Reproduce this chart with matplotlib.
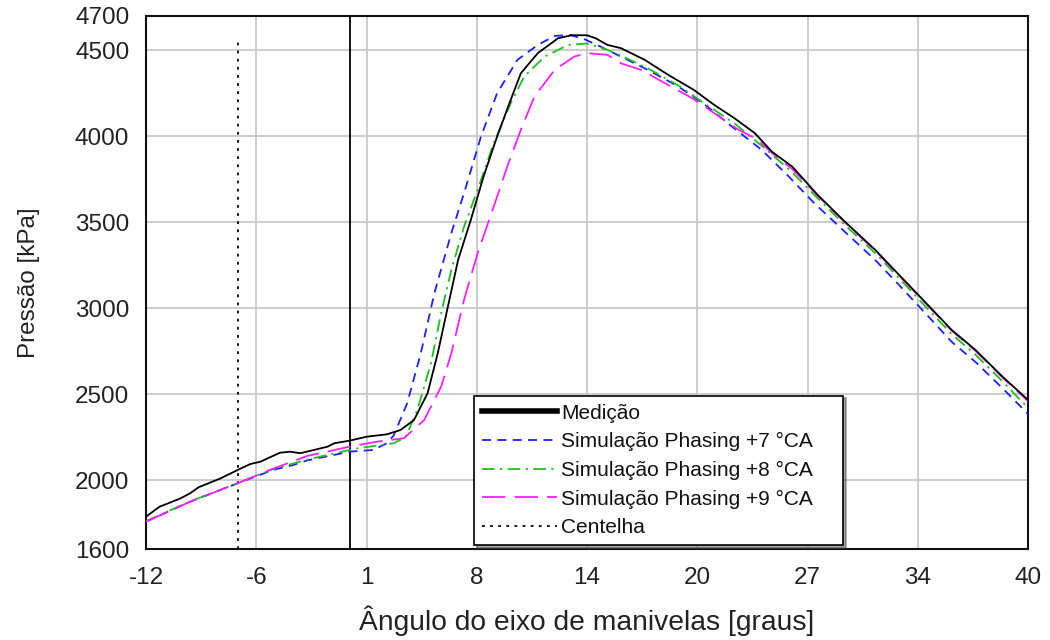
import numpy as np
import matplotlib
matplotlib.use("Agg")
import matplotlib.pyplot as plt
from matplotlib.lines import Line2D

plt.rcParams['font.family'] = ['Liberation Sans', 'DejaVu Sans']

# ---------------- data ----------------
med_x = [-12, -11.2, -10, -9.4, -8.9, -7.6, -6.4, -5.85, -5.25, -4.1, -3.5, -2.9, -2.1, -1.3, -0.9, 0,
         1.0, 2.2, 3.0, 3.8, 4.6, 5.2, 5.8, 6.4, 7.15, 7.9, 8.7, 9.5, 10.1, 11.1, 12.3, 13.1, 14.0,
         14.5, 15.2, 16.0, 17.4, 18.8, 20.3, 21.5, 22.7, 23.9, 24.9, 26.1, 27.6, 29.2, 31.0, 32.4,
         34.1, 35.5, 36.9, 38.5, 40.0]
med_y = [1788, 1846, 1893, 1924, 1959, 2011, 2069, 2094, 2108, 2160, 2166, 2157, 2176, 2195, 2215, 2230,
         2253, 2267, 2292, 2350, 2506, 2738, 3010, 3281, 3514, 3766, 3999, 4212, 4367, 4484, 4571, 4588, 4588,
         4571, 4532, 4513, 4445, 4357, 4270, 4183, 4105, 4018, 3911, 3824, 3659, 3504, 3339, 3194,
         3019, 2874, 2758, 2602, 2467]

s7_x = [-12, -9.4, -6.6, -4.5, -3.3, -2.5, 0, 1.4, 2.2, 2.6, 3.4, 4.2, 5.0, 6.0, 6.75, 7.75, 8.7, 9.9,
        11.1, 12.1, 13.0, 13.85, 14.8, 16.0, 17.6, 19.4, 21.1, 22.3, 24.3, 25.9, 27.4, 29.2, 31.0,
        32.4, 34.1, 35.5, 36.9, 38.5, 40.0]
s7_y = [1759, 1875, 1982, 2060, 2089, 2115, 2166, 2176, 2215, 2260, 2448, 2738, 3087, 3437, 3669, 3999,
        4251, 4445, 4532, 4584, 4590, 4565, 4522, 4464, 4386, 4289, 4173, 4076, 3921, 3766, 3611, 3445,
        3280, 3135, 2955, 2805, 2688, 2535, 2385]

s8_x = [-12, -9.4, -6.6, -4.5, -2.5, 0, 0.5, 2.6, 3.3, 4.0, 4.8, 5.4, 6.0, 6.75, 7.55, 8.5, 9.5, 10.3,
        11.5, 12.9, 14.0, 15.2, 16.0, 17.6, 19.4, 21.1, 22.7, 24.3, 26.0, 27.6, 29.2, 31.0, 32.4, 34.1,
        35.5, 36.9, 38.5, 40.0]
s8_y = [1762, 1877, 1983, 2065, 2120, 2176, 2186, 2215, 2250, 2409, 2680, 2971, 3223, 3475, 3688, 3960,
        4193, 4348, 4464, 4532, 4540, 4503, 4470, 4395, 4295, 4180, 4075, 3945, 3800, 3640, 3485, 3320,
        3175, 2995, 2850, 2730, 2575, 2420]

s9_x = [-12, -9.4, -6.6, -4.7, -2.5, 0, 1.6, 3.2, 4.4, 5.4, 6.0, 6.75, 7.55, 8.5, 9.3, 10.1, 10.9, 12.1,
        13.25, 14.0, 15.2, 16.0, 17.2, 18.6, 20.2, 21.5, 22.9, 24.0, 25.0, 26.1, 27.6, 29.2, 31.0, 32.4,
        34.1, 35.5, 36.9, 38.5, 40.0]
s9_y = [1759, 1875, 1982, 2060, 2141, 2195, 2224, 2244, 2350, 2544, 2738, 3049, 3320, 3591, 3824, 4038,
        4232, 4387, 4464, 4484, 4474, 4425, 4386, 4309, 4222, 4135, 4040, 3985, 3895, 3810, 3655, 3500,
        3335, 3190, 3015, 2870, 2752, 2597, 2460]

spark_x = -6.6
spark_top = 4570
tdc_x = 0

labels = ["Medição", "Simulação Phasing +7 °CA", "Simulação Phasing +8 °CA",
          "Simulação Phasing +9 °CA", "Centelha"]
xtick_labels = ["-12", "-6", "1", "8", "14", "20", "27", "34", "40"]
ytick_vals = [1600, 2000, 2500, 3000, 3500, 4000, 4500, 4700]
x_min, x_max = -12, 40
y_min, y_max = 1600, 4700

# ---------------- figure ----------------
fig = plt.figure(figsize=(10.5, 6.4), dpi=100)
ax = fig.add_axes([146/1050, 91/640, 882/1050, 533/640])

c_blue = '#1f1fff'
c_green = '#1fbf1f'
c_mag = '#ff1fff'

ax.plot(s7_x, s7_y, color=c_blue, lw=1.3, dashes=(5, 3.5), zorder=3)
ax.plot(s8_x, s8_y, color=c_green, lw=1.3, dashes=(7, 3, 1.2, 3), zorder=3)
ax.plot(s9_x, s9_y, color=c_mag, lw=1.3, dashes=(13, 5), zorder=3)
ax.plot(med_x, med_y, color='black', lw=1.3, zorder=4)
ax.plot([spark_x, spark_x], [y_min, spark_top], color='black', lw=1.3, dashes=(1.5, 3), zorder=2)
ax.axvline(tdc_x, color='black', lw=1.3, zorder=2)

ax.set_xlim(x_min, x_max)
ax.set_ylim(y_min, y_max)
ax.set_xticks(np.linspace(x_min, x_max, len(xtick_labels)))
ax.set_xticklabels(xtick_labels)
ax.set_yticks(ytick_vals)
ax.set_yticklabels([str(v) for v in ytick_vals])
ax.tick_params(length=0, labelsize=17.5, colors='#222222')
ax.tick_params(axis='x', pad=13)
ax.tick_params(axis='y', pad=12)
ax.grid(True, color='#c8c8c8', lw=1.3)
ax.set_axisbelow(True)
for s in ax.spines.values():
    s.set_linewidth(1.5)
    s.set_color('#111111')

ax.set_xlabel("Ângulo do eixo de manivelas [graus]", fontsize=20.3, color='#222222', labelpad=12)
ax.set_ylabel("Pressão [kPa]", fontsize=17.5, color='#222222', labelpad=25)

handles = [
    Line2D([], [], color='black', lw=4),
    Line2D([], [], color=c_blue, lw=1.3, dashes=(5, 3.5)),
    Line2D([], [], color=c_green, lw=1.3, dashes=(7, 3, 1.2, 3)),
    Line2D([], [], color=c_mag, lw=1.3, dashes=(13, 5)),
    Line2D([], [], color='black', lw=1.3, dashes=(1.5, 3)),
]
leg = ax.legend(handles, labels, loc='lower left',
                bbox_to_anchor=(0.372, 0.0075, 0.418, 0.278), mode='expand',
                fontsize=15, frameon=True, fancybox=False, shadow=True,
                handlelength=3.6, handletextpad=0.2, labelspacing=0.46,
                borderpad=0.38, borderaxespad=0)
leg.get_frame().set_edgecolor('black')
leg.get_frame().set_linewidth(1.2)
for t in leg.get_texts():
    t.set_color('#111111')

fig.savefig("out.png", dpi=100)
